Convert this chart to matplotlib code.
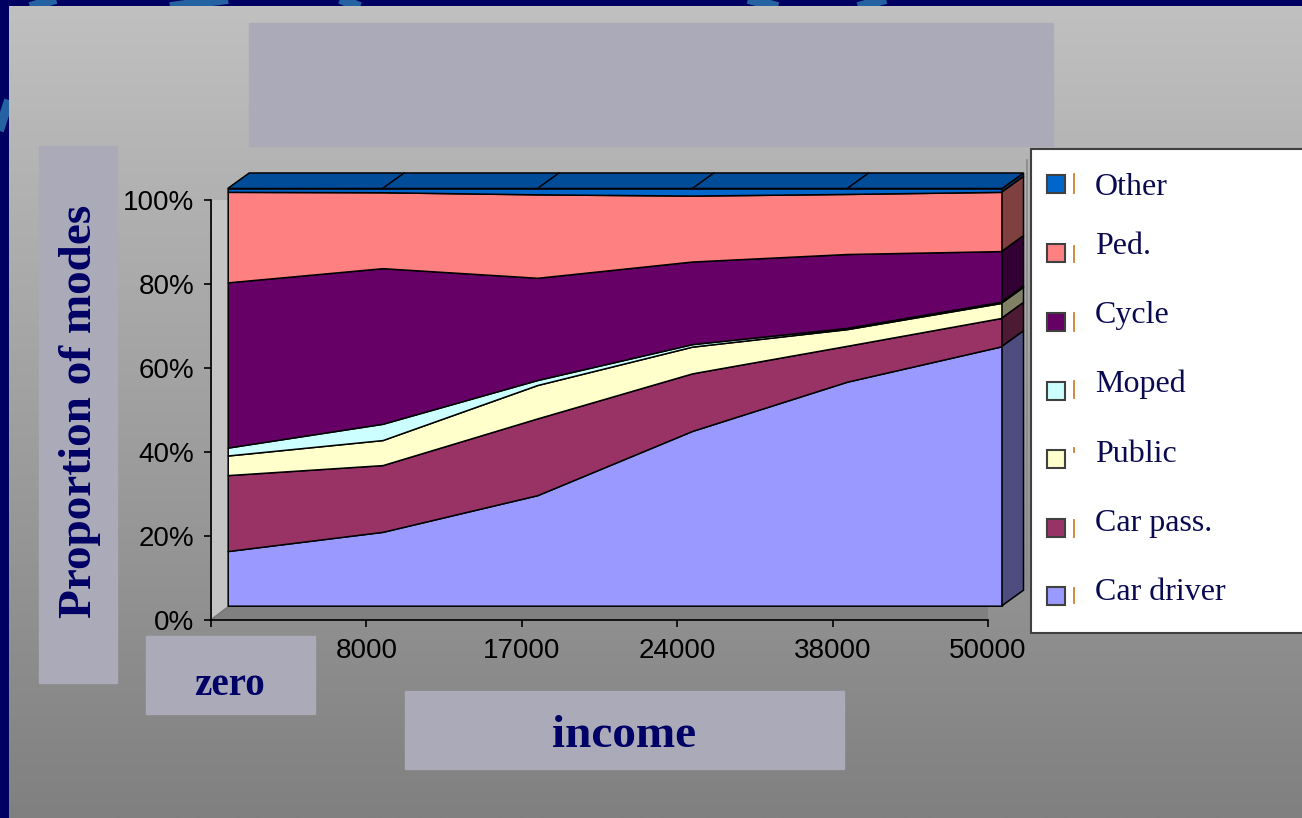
import matplotlib.pyplot as plt
import numpy as np
from matplotlib.patches import Polygon, Rectangle
from matplotlib.transforms import IdentityTransform
from matplotlib.colors import to_rgb

# income bands (first label is hidden under the "zero" box in the original slide)
categories = ['0', '8000', '17000', '24000', '38000', '50000']

# share of trips per mode, percent (bottom to top of the stack)
car_driver = [13.1, 17.7, 26.5, 41.9, 53.7, 62.2]
car_pass = [18.2, 16.0, 18.4, 13.8, 8.6, 6.8]
public = [4.7, 6.0, 8.0, 6.4, 4.0, 3.6]
moped = [1.9, 3.9, 1.2, 0.6, 0.3, 0.3]
cycle = [39.6, 37.3, 24.5, 19.8, 17.7, 12.1]
ped = [21.7, 18.2, 20.0, 15.8, 14.4, 14.2]
other = [0.8, 0.9, 1.4, 1.7, 1.3, 0.8]

modes = ['Car driver', 'Car pass.', 'Public', 'Moped', 'Cycle', 'Ped.', 'Other']
colors = ['#9999FF', '#993366', '#FFFFCC', '#CCFFFF', '#660066', '#FF8080', '#0066CC']

plt.rcParams['font.family'] = ['Liberation Sans', 'DejaVu Sans']

W, H = 1302, 818
fig = plt.figure(figsize=(W / 100, H / 100), dpi=100)


def frac(x0, y0, x1, y1):
    # pixel box (top-left origin) -> figure fraction rect
    return [x0 / W, 1 - y1 / H, (x1 - x0) / W, (y1 - y0) / H]


def px(axes, x, y, dx=0.0, dy=0.0):
    X, Y = axes.transData.transform((x, y))
    return (X + dx, Y + dy)


def darker(c, f):
    r, g, b = to_rgb(c)
    return (r * f, g * f, b * f)


# ---- slide background ----
bg = fig.add_axes([0, 0, 1, 1], zorder=0)
bg.set_xlim(0, W)
bg.set_ylim(H, 0)
bg.axis('off')
bg.add_patch(Rectangle((0, 0), W, H, color='#000062', zorder=0))
for (x0, y0, x1, y1) in [(30, 7, 56, -1), (170, 7, 228, -1), (340, -1, 360, 7),
                         (748, -1, 778, 7), (858, 7, 886, -1), (-4, 140, 9, 100)]:
    bg.plot([x0, x1], [y0, y1], color='#2462A2', lw=7, solid_capstyle='butt', zorder=0.5)
grad = np.linspace(192, 128, 256)[:, None, None] * np.ones((1, 1, 3)) / 255
bg.imshow(grad, extent=(9, W, H, 6), aspect='auto', interpolation='bilinear', zorder=1)
bg.set_xlim(0, W)
bg.set_ylim(H, 0)

# ---- front axis frame (ticks + walls) ----
ax = fig.add_axes(frac(211, 200, 988, 620), zorder=1)
ax.set_xlim(0, 5)
ax.set_ylim(0, 100)
ax.patch.set_visible(False)
for s in ['top', 'right']:
    ax.spines[s].set_visible(False)
for s in ['left', 'bottom']:
    ax.spines[s].set_linewidth(1.2)
ax.set_xticks(range(len(categories)))
ax.set_xticklabels(categories)
ax.set_yticks(range(0, 101, 20))
ax.set_yticklabels([f'{v}%' for v in range(0, 101, 20)])
ax.tick_params(axis='both', direction='out', length=5, width=1.2, labelsize=20, colors='black')
ax.tick_params(axis='x', pad=8)
ax.tick_params(axis='y', pad=7)

CLIP_X = 1027
clip = Rectangle((0, 0), CLIP_X, H, transform=IdentityTransform())
BX, BY = 53, 40
walls = [
    ([px(ax, 0, 0), px(ax, 0, 100), px(ax, 0, 100, BX, BY), px(ax, 0, 0, BX, BY)], '#C4C4C4'),
    ([px(ax, 0, 0, BX, BY), px(ax, 5, 0, BX, BY), px(ax, 5, 100, BX, BY), px(ax, 0, 100, BX, BY)], '#C0C0C0'),
    ([px(ax, 0, 0), px(ax, 5, 0), px(ax, 5, 0, BX, BY), px(ax, 0, 0, BX, BY)], '#808080'),
]
for pts, fc in walls:
    p = Polygon(pts, closed=True, facecolor=fc, edgecolor='#7A7A7A', lw=1.2,
                transform=IdentityTransform())
    p.set_clip_path(clip)
    ax.add_patch(p)
ax.plot(*zip(px(ax, 5, 0), px(ax, 5, 0, BX, BY)), color='#303030', lw=1.2,
        transform=IdentityTransform(), clip_path=clip)
# right edge of the clipped plot area
y_top = px(ax, 5, 100, BX, BY)[1]
y_bot = px(ax, 5, 0, BX, BY)[1]
ax.plot([CLIP_X - 0.5, CLIP_X - 0.5], [y_bot - 10, y_top], color='#8A8A8A', lw=1.2,
        transform=IdentityTransform(), clip_on=False)

# ---- series faces ----
ax3 = fig.add_axes(frac(227.7, 188.5, 1002, 605.7), zorder=2)
ax3.set_xlim(0, 5)
ax3.set_ylim(0, 100)
ax3.axis('off')
x = np.arange(len(categories))
stack = np.array([car_driver, car_pass, public, moped, cycle, ped, other])
ax3.stackplot(x, *stack, colors=colors, edgecolor='black', linewidth=1.1, clip_on=False)

DX, DY = 21.5, 15.5
cum = np.cumsum(stack, axis=0)
last = len(categories) - 1
for i in range(len(modes)):
    b = cum[i - 1][last] if i > 0 else 0
    t = cum[i][last]
    pts = [px(ax3, last, b), px(ax3, last, t), px(ax3, last, t, DX, DY), px(ax3, last, b, DX, DY)]
    ax3.add_patch(Polygon(pts, closed=True, facecolor=darker(colors[i], 0.5), edgecolor='black',
                          lw=1.1, transform=IdentityTransform(), clip_on=False))
top = cum[-1]
pts = [px(ax3, 0, top[0]), px(ax3, last, top[last]), px(ax3, last, top[last], DX, DY),
       px(ax3, 0, top[0], DX, DY)]
ax3.add_patch(Polygon(pts, closed=True, facecolor='#004C99', edgecolor='black', lw=1.1,
                      transform=IdentityTransform(), clip_on=False))
for i in range(1, last):
    ax3.plot(*zip(px(ax3, i, top[i]), px(ax3, i, top[i], DX, DY)), color='black', lw=1.1,
             transform=IdentityTransform(), clip_on=False)

# ---- slide boxes, labels and legend ----
ov = fig.add_axes([0, 0, 1, 1], zorder=5)
ov.set_xlim(0, W)
ov.set_ylim(H, 0)
ov.axis('off')
ov.patch.set_visible(False)
box = '#AAAAB8'
navy = '#000066'
serif = ['Liberation Serif', 'DejaVu Serif']
ov.add_patch(Rectangle((249, 23), 804, 123, color=box))
ov.add_patch(Rectangle((39, 146), 78, 537, color=box))
ov.add_patch(Rectangle((146, 636), 169, 78, color=box))
ov.add_patch(Rectangle((405, 691), 439, 78, color=box))
ov.text(80, 411, 'Proportion of modes', rotation=90, ha='center', va='center', fontsize=34,
        fontweight='bold', color=navy, family=serif)
ov.text(230, 695, 'zero', ha='center', va='baseline', fontsize=28, fontweight='bold',
        color=navy, family=serif)
ov.text(624, 747, 'income', ha='center', va='baseline', fontsize=34, fontweight='bold',
        color=navy, family=serif)

ov.add_patch(Rectangle((1031, 149), 290, 484, facecolor='white', edgecolor='#404040', lw=1.5))
marker_y = [184, 253, 322, 391, 459, 528, 596]
text_y = [195, 254, 323, 392, 462, 531, 600]
stub_y = [(174, 193), (246, 262), (313, 331), (381, 398), (448, 452), (520, 537), (588, 603)]
for j, i in enumerate(range(len(modes) - 1, -1, -1)):
    ov.add_patch(Rectangle((1047, marker_y[j] - 9), 18, 18, facecolor=colors[i],
                           edgecolor='#404040', lw=1.5))
    ov.plot([1074, 1074], stub_y[j], color='#D08030', lw=1.3)
    ov.text(1095, text_y[j], modes[i], ha='left', va='baseline', fontsize=23,
            color='#0A0A50', family=serif)

fig.savefig('out.png', dpi=100)
